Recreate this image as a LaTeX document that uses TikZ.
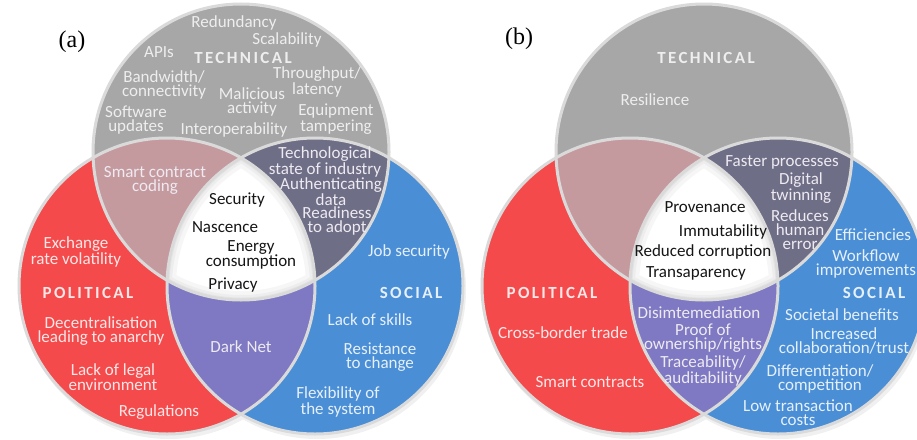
\documentclass[tikz,border=0pt]{standalone}
\usepackage{fontspec}
\setmainfont{Carlito}
\newfontfamily\hdrfont[LetterSpace=14]{Carlito}
\newfontfamily\serifont{Liberation Serif}
\definecolor{cgray}{HTML}{A7A7A7}
\definecolor{cred}{HTML}{F44A4C}
\definecolor{cblue}{HTML}{4A8ED6}
\definecolor{crose}{HTML}{C59A9F}
\definecolor{cslate}{HTML}{6E6E86}
\definecolor{cpurple}{HTML}{7E79C2}
\definecolor{cedge}{HTML}{DADADA}
\definecolor{tgray}{HTML}{EEEEEE}
\definecolor{tred}{HTML}{FDE6E6}
\definecolor{tblue}{HTML}{E6F0FB}
\definecolor{tlens}{HTML}{EEEAF2}
\definecolor{tdark}{HTML}{151515}
\tikzset{
  lbl/.style={align=center, inner sep=0pt, font=\fontsize{17}{14}\selectfont},
  onGray/.style={lbl, text=tgray},
  onRed/.style={lbl, text=tred},
  onBlue/.style={lbl, text=tblue},
  onLens/.style={lbl, text=tlens},
  onWhite/.style={lbl, text=tdark},
  hdr/.style={inner sep=0pt, font=\hdrfont\bfseries\fontsize{17}{17}\selectfont},
  tag/.style={inner sep=0pt, font=\serifont\fontsize{24}{24}\selectfont, text=black},
  rim/.style={draw=cedge, line width=3pt}
}
\newcommand\drawvenn[1]{%
\begin{scope}[xshift=#1pt]
  \fill[black, opacity=0.06] (169,290) circle[radius=149pt] (317,290) circle[radius=149pt];
  \fill[cred] (167,286) circle[radius=148pt];
  \fill[cblue] (315,286) circle[radius=148pt];
  \fill[cgray] (241,152) circle[radius=148pt];
  \begin{scope}
    \clip (167,286) circle[radius=148pt];
    \fill[crose] (241,152) circle[radius=148pt];
  \end{scope}
  \begin{scope}
    \clip (315,286) circle[radius=148pt];
    \fill[cslate] (241,152) circle[radius=148pt];
  \end{scope}
  \begin{scope}
    \clip (167,286) circle[radius=148pt];
    \fill[cpurple] (315,286) circle[radius=148pt];
  \end{scope}
  \begin{scope}
    \clip (167,286) circle[radius=148pt];
    \clip (315,286) circle[radius=148pt];
    \clip (241,152) circle[radius=148pt];
    \fill[white] (241,152) circle[radius=148pt];
    \foreach \w in {18,10,5} {
      \draw[black, opacity=0.035, line width=\w pt] (167,286) circle[radius=148pt] (315,286) circle[radius=148pt] (241,152) circle[radius=148pt];
    }
  \end{scope}
  \draw[rim] (167,286) circle[radius=148pt];
  \draw[rim] (315,286) circle[radius=148pt];
  \draw[rim] (241,152) circle[radius=148pt];
\end{scope}}
\begin{document}
\begin{tikzpicture}[x=1pt,y=-1pt]
\useasboundingbox (0,0) rectangle (917,439);
\clip (0,0) rectangle (917,439);
\fill[white] (0,0) rectangle (917,439);
\drawvenn{0}
\drawvenn{463}
% ---------- (a) ----------
\node[tag] (tagA) at (72,42) {(a)};
\node[hdr, text=tgray] (techA) at (243,58) {TECHNICAL};
\node[onGray] (redund) at (234,23) {Redundancy};
\node[onGray] (scal) at (287,40) {Scalability};
\node[onGray] (apis) at (159,52) {APIs};
\node[onGray] (band) at (164,85) {Bandwidth/\\connectivity};
\node[onGray] (thru) at (317,82) {Throughput/\\latency};
\node[onGray] (mal) at (252,102) {Malicious\\activity};
\node[onGray] (soft) at (136,120) {Software\\updates};
\node[onGray] (equip) at (336,119) {Equipment\\tampering};
\node[onGray] (inter) at (234,130) {Interoperability};
\node[onLens] (smart) at (155,180) {Smart contract\\coding};
\node[onLens] (techno) at (325,162) {Technological\\state of industry};
\node[onLens] (auth) at (331,192) {Authenticating\\data};
\node[onLens] (ready) at (337,221) {Readiness\\to adopt};
\node[onWhite] (sec) at (237,200) {Security};
\node[onWhite] (nasc) at (225,227) {Nascence};
\node[onWhite] (energy) at (251,255) {Energy\\consumption};
\node[onWhite] (priv) at (233,285) {Privacy};
\node[onRed] (exch) at (76,252) {Exchange\\rate volatility};
\node[hdr, text=tred] (polA) at (88,293) {POLITICAL};
\node[onRed] (decent) at (101,331) {Decentralisation\\leading to anarchy};
\node[onRed] (lack) at (113,377) {Lack of legal\\environment};
\node[onRed] (regul) at (159,412) {Regulations};
\node[onLens] (dark) at (241,347) {Dark Net};
\node[onBlue] (job) at (409,252) {Job security};
\node[hdr, text=tblue] (socA) at (411,293) {SOCIAL};
\node[onBlue] (skills) at (370,320) {Lack of skills};
\node[onBlue] (resist) at (380,357) {Resistance\\to change};
\node[onBlue] (flex) at (338,402) {Flexibility of\\the system};
% ---------- (b) ----------
\node[tag] (tagB) at (519,39) {(b)};
\node[hdr, text=tgray] (techB) at (706,58) {TECHNICAL};
\node[onGray] (resil) at (655,100) {Resilience};
\node[onLens] (faster) at (782,162) {Faster processes};
\node[onLens] (digital) at (801,188) {Digital\\twinning};
\node[onLens] (reduces) at (800,230) {Reduces\\human\\error};
\node[onWhite] (prov) at (705,207) {Provenance};
\node[onWhite] (immut) at (723,232) {Immutability};
\node[onWhite] (redcor) at (703,252) {Reduced corruption};
\node[onWhite] (transp) at (696,273) {Transaparency};
\node[onBlue] (effic) at (873,235) {Efficiencies};
\node[onBlue] (workflow) at (866,264) {Workflow\\improvements};
\node[hdr, text=tblue] (socB) at (874,293) {SOCIAL};
\node[onBlue] (societal) at (842,315) {Societal benefits};
\node[onBlue] (incr) at (844,341) {Increased\\collaboration/trust};
\node[onBlue] (diff) at (820,379) {Differentiation/\\competition};
\node[onBlue] (low) at (798,413) {Low transaction\\costs};
\node[hdr, text=tred] (polB) at (552,293) {POLITICAL};
\node[onRed] (cross) at (563,333) {Cross-border trade};
\node[onRed] (smartc) at (590,382) {Smart contracts};
\node[onLens] (disim) at (699,313) {Disimtemediation};
\node[onLens] (proof) at (703,338) {Proof of\\ownership/rights};
\node[onLens] (trace) at (703,371) {Traceability/\\auditability};
\end{tikzpicture}
\end{document}
